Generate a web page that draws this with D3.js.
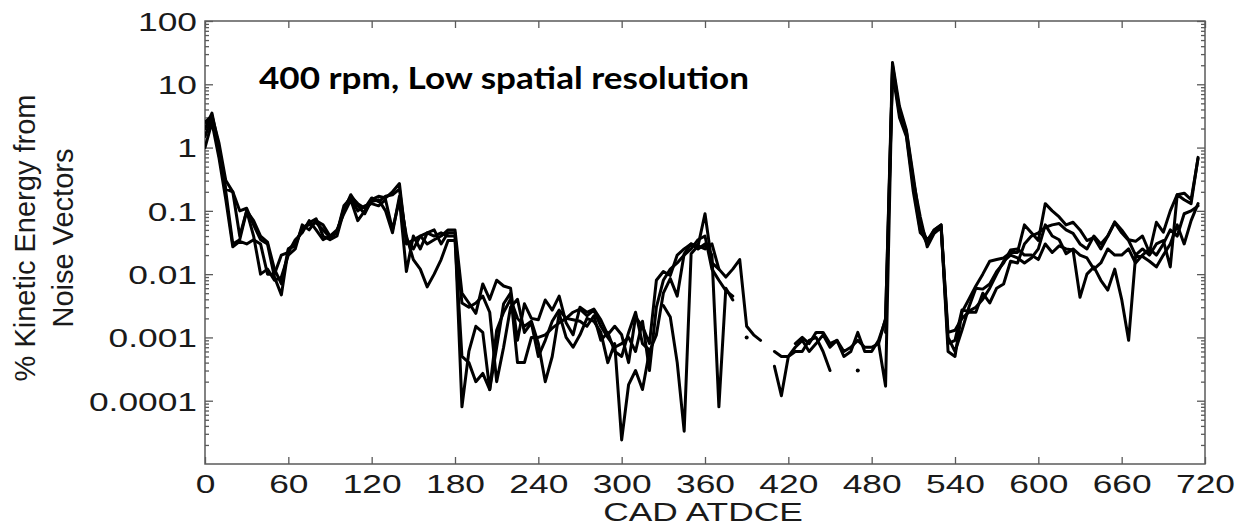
<!DOCTYPE html>
<html><head><meta charset="utf-8">
<script src="https://cdn.jsdelivr.net/npm/d3@7"></script>
<style>body{margin:0;background:#fff;}svg{display:block;}</style>
</head><body>
<svg id="chart" width="1244" height="529"></svg>
<script>
// ---------- DATA ----------
const cadDeg = [
  0,5,10,15,20,25,30,35,40,45,50,55,
  60,65,70,75,80,85,90,95,100,105,110,115,
  120,125,130,135,140,145,150,155,160,165,170,175,
  180,185,190,195,200,205,210,215,220,225,230,235,
  240,245,250,255,260,265,270,275,280,285,290,295,
  300,305,310,315,320,325,330,335,340,345,350,355,
  360,365,370,375,380,385,390,395,400,405,410,415,
  420,425,430,435,440,445,450,455,460,465,470,475,
  480,485,490,495,500,505,510,515,520,525,530,535,
  540,545,550,555,560,565,570,575,580,585,590,595,
  600,605,610,615,620,625,630,635,640,645,650,655,
  660,665,670,675,680,685,690,695,700,705,710,715,
  720];

const seriesA = [
  2.0,3.5,1.0,0.22,0.2,0.1,0.11,0.06,0.035,0.03,0.009,0.0047,
  0.025,0.03,0.05,0.065,0.075,0.04,0.035,0.04,0.1,0.18,0.12,0.09,
  0.15,0.17,0.16,0.2,0.27,0.03,0.035,0.04,0.03,0.035,0.04,0.05,
  0.05,0.005,0.0035,0.0024,0.007,0.004,0.008,0.0065,0.006,0.0009,0.0034,0.002,
  0.0019,0.0039,0.0027,0.0045,0.0017,0.0011,0.003,0.0025,0.0028,0.0019,0.0011,0.0015,
  0.0011,0.0004,0.0021,0.0015,0.0008,0.008,0.011,0.0095,0.02,0.025,0.03,0.028,
  0.09,0.015,0.012,0.009,0.012,0.017,0.0015,0.0011,0.0009,null,0.0006,0.0005,
  0.0005,0.0007,0.0009,0.0006,0.0008,0.0011,0.0007,0.0009,0.0005,0.0006,0.0012,0.0006,
  0.0006,0.0009,0.0019,22,4.5,1.9,0.35,0.06,0.034,0.05,0.06,0.0006,
  0.0005,0.0025,0.004,0.0065,0.01,0.016,0.017,0.018,0.022,0.022,0.06,0.045,
  0.034,0.13,0.1,0.08,0.06,0.066,0.05,0.034,0.038,0.025,0.04,0.067,
  0.05,0.035,0.033,0.04,0.022,0.066,0.046,0.1,0.18,0.19,0.15,0.67,
  null];

const seriesB = [
  1.5,3.0,0.8,0.2,0.03,0.035,0.1,0.04,0.01,0.012,0.008,0.009,
  0.02,0.025,0.06,0.05,0.07,0.06,0.04,0.045,0.12,0.16,0.1,0.12,
  0.13,0.12,0.15,0.05,0.15,0.011,0.04,0.025,0.045,0.05,0.03,0.045,
  0.045,0.00008,0.0006,0.0015,0.0012,0.00015,0.0013,0.0025,0.004,0.002,0.0015,0.0018,
  0.0008,0.0002,0.0005,0.0024,0.001,0.0007,0.0011,0.002,0.0018,0.0012,0.0004,0.0008,
  0.000024,0.00018,0.0003,0.00015,0.0006,0.0011,0.005,0.0085,0.0045,0.021,0.03,0.025,
  0.03,0.02,0.00008,0.006,0.0039,null,null,null,null,null,0.00035,0.00012,
  0.0005,0.0006,0.0006,0.0009,0.001,0.0006,0.0003,null,null,null,null,null,
  null,0.0008,0.00017,20,3.8,1.8,0.3,0.08,0.027,0.044,0.055,0.0012,
  0.0013,0.002,0.0025,0.0025,0.005,0.0035,0.006,0.007,0.016,0.015,0.03,0.04,
  0.045,0.055,0.06,0.063,0.05,0.044,0.03,0.025,0.04,0.03,0.04,0.065,
  0.045,0.034,0.02,0.025,0.02,0.03,0.034,0.013,0.18,0.15,0.13,0.7,
  null];

const seriesC = [
  1.0,2.5,0.7,0.15,0.027,0.033,0.03,0.035,0.03,0.01,0.01,0.02,
  0.022,0.035,0.045,0.07,0.05,0.035,0.04,0.05,0.09,0.15,0.07,0.1,
  0.14,0.15,0.1,0.045,0.17,0.04,0.017,0.012,0.0063,0.01,0.017,0.034,
  0.034,0.0005,0.0004,0.0002,0.00027,0.00015,0.0007,0.0034,0.005,0.0004,0.0004,0.001,
  0.001,0.0011,0.0014,0.0017,0.002,0.0025,0.0028,0.0022,0.0027,0.0015,0.001,0.0007,
  0.0008,0.001,0.0006,0.0018,0.0003,0.003,0.008,0.012,0.015,0.02,0.025,0.035,
  0.04,0.012,0.008,0.0055,0.0045,null,0.001,null,null,null,null,null,
  null,null,null,null,null,null,null,null,null,null,0.0003,null,
  null,null,0.0012,18,3.5,1.6,0.25,0.05,0.03,0.05,0.06,0.001,
  0.0006,0.0013,0.003,0.006,0.0058,0.007,0.011,0.015,0.024,0.025,0.02,0.02,
  0.017,0.03,0.022,0.028,0.025,0.024,0.0043,0.01,0.013,0.008,0.0056,0.012,
  0.004,0.0009,0.019,0.019,0.016,0.013,0.02,0.03,0.06,0.03,0.07,0.13,
  null];

const seriesD = [
  2.5,3.2,1.2,0.3,0.2,0.04,0.1,0.07,0.04,0.032,0.012,0.007,
  0.025,0.028,0.055,0.06,0.065,0.05,0.038,0.045,0.11,0.17,0.13,0.11,
  0.16,0.14,0.17,0.18,0.22,0.035,0.025,0.04,0.045,0.04,0.045,0.04,
  0.04,0.0035,0.003,0.0035,0.0045,0.0025,0.0002,0.0007,0.003,0.004,0.0012,0.0017,
  0.0005,0.0009,0.0018,0.0027,0.002,0.0019,0.0018,0.0015,0.0022,0.0009,0.0012,0.0006,
  0.0005,0.0012,0.0025,0.0008,0.00063,null,0.0032,0.0021,0.0004,0.000033,0.021,0.028,
  0.025,0.03,0.012,null,null,null,null,null,null,null,null,null,
  null,0.0008,0.001,0.0008,0.0012,0.0012,0.0008,0.0009,0.0006,0.0007,0.0009,0.0007,
  0.0007,0.0008,0.002,16,3.0,1.5,0.2,0.045,0.035,0.045,0.055,0.0008,
  0.0009,0.0027,0.0026,0.003,0.004,0.006,0.01,0.016,0.02,0.018,0.015,0.018,
  0.025,0.06,0.04,0.035,0.021,0.025,0.02,0.018,0.012,0.015,0.025,0.02,
  0.02,0.025,0.015,0.02,0.025,0.02,0.03,0.05,0.04,0.09,0.1,0.12,
  null];

const xTickValues = [0,60,120,180,240,300,360,420,480,540,600,660,720];
const yTickValues = [0.0001,0.001,0.01,0.1,1,10,100];
const yTickLabels = ["0.0001","0.001","0.01","0.1","1","10","100"];
const titleText = "400 rpm, Low spatial resolution";
const xTitleText = "CAD ATDCE";
const yTitleLines = ["% Kinetic Energy from","Noise Vectors"];

// ---------- LAYOUT ----------
const M = {l:205, r:1205, t:21, b:464};
const SX = 1.36;            // horizontal stretch of the reference's labels
const FONT = "'Liberation Sans', Arial, sans-serif";
const AX = "#5a5a5a";

const x = d3.scaleLinear().domain([0,720]).range([M.l, M.r]);
const y = d3.scaleLog().domain([1e-5,100]).range([M.b, M.t]);

const svg = d3.select("#chart");

// minor ticks
const minorTicks = [];
for (let e=-5; e<2; e++) for (let k=2; k<10; k++) minorTicks.push(k*Math.pow(10,e));

function styleAxis(g){
  g.select(".domain").remove();
  g.selectAll("line").attr("stroke",AX).attr("stroke-width",1.3);
}

// bottom
const gxb = svg.append("g").attr("transform",`translate(0,${M.b})`)
  .call(d3.axisBottom(x).tickValues(xTickValues).tickSize(-7).tickSizeOuter(0).tickFormat(d3.format("d")));
styleAxis(gxb);
gxb.selectAll("text").attr("y",29).attr("dy",null)
  .attr("font-size",26).attr("font-family",FONT).attr("fill","#1a1a1a")
  .attr("transform",`scale(${SX},1)`);
// top
const gxt = svg.append("g").attr("transform",`translate(0,${M.t})`)
  .call(d3.axisTop(x).tickValues(xTickValues).tickSize(-7).tickSizeOuter(0).tickFormat(""));
styleAxis(gxt);

// left major
const gyl = svg.append("g").attr("transform",`translate(${M.l},0)`)
  .call(d3.axisLeft(y).tickValues(yTickValues).tickSize(-8).tickSizeOuter(0)
    .tickFormat((d,i)=>yTickLabels[i]));
styleAxis(gyl);
gyl.selectAll("text").attr("x",-8/SX).attr("dy","0.36em")
  .attr("font-size",26).attr("font-family",FONT).attr("fill","#1a1a1a")
  .attr("transform",`scale(${SX},1)`);
const gylm = svg.append("g").attr("transform",`translate(${M.l},0)`)
  .call(d3.axisLeft(y).tickValues(minorTicks).tickSize(-4).tickSizeOuter(0).tickFormat(""));
styleAxis(gylm);
// right
const gyr = svg.append("g").attr("transform",`translate(${M.r},0)`)
  .call(d3.axisRight(y).tickValues(yTickValues).tickSize(-8).tickSizeOuter(0).tickFormat(""));
styleAxis(gyr);
const gyrm = svg.append("g").attr("transform",`translate(${M.r},0)`)
  .call(d3.axisRight(y).tickValues(minorTicks).tickSize(-4).tickSizeOuter(0).tickFormat(""));
styleAxis(gyrm);

// frame
svg.append("rect").attr("x",M.l).attr("y",M.t).attr("width",M.r-M.l).attr("height",M.b-M.t)
  .attr("fill","none").attr("stroke",AX).attr("stroke-width",1.5);

// clip
svg.append("clipPath").attr("id","clip").append("rect")
  .attr("x",M.l).attr("y",M.t-4).attr("width",M.r-M.l+2).attr("height",M.b-M.t+4);

const line = d3.line()
  .defined(d => d[1] != null)
  .x(d => x(d[0])).y(d => y(d[1]));

const plot = svg.append("g").attr("clip-path","url(#clip)");
[seriesA, seriesB, seriesC, seriesD].forEach(s => {
  const pts = cadDeg.map((c,i)=>[c, s[i]]);
  plot.append("path").datum(pts).attr("d",line)
    .attr("fill","none").attr("stroke","#000").attr("stroke-width",3)
    .attr("stroke-linejoin","round").attr("stroke-linecap","round");
  const iso = pts.filter((p,i)=> p[1]!=null && (i===0||s[i-1]==null) && (i===s.length-1||s[i+1]==null));
  plot.selectAll(null).data(iso).enter().append("circle")
    .attr("cx",d=>x(d[0])).attr("cy",d=>y(d[1])).attr("r",2).attr("fill","#000");
});

// title
svg.append("text").attr("x",259).attr("y",89)
  .attr("font-family","Lato, 'Open Sans', sans-serif").attr("font-weight","bold")
  .attr("font-size",31).attr("fill","#000")
  .attr("textLength",490).attr("lengthAdjust","spacingAndGlyphs")
  .text(titleText);

// x title
svg.append("text").attr("transform",`translate(703,521) scale(${SX},1)`)
  .attr("text-anchor","middle").attr("font-family",FONT).attr("font-size",26).attr("fill","#1a1a1a")
  .text(xTitleText);

// y title
const yt = svg.append("text").attr("transform","translate(0,238) rotate(-90)")
  .attr("text-anchor","middle").attr("font-family",FONT).attr("font-size",29).attr("fill","#1a1a1a");
yt.append("tspan").attr("x",0).attr("y",35).text(yTitleLines[0]);
yt.append("tspan").attr("x",0).attr("y",73).text(yTitleLines[1]);
</script>
</body></html>
